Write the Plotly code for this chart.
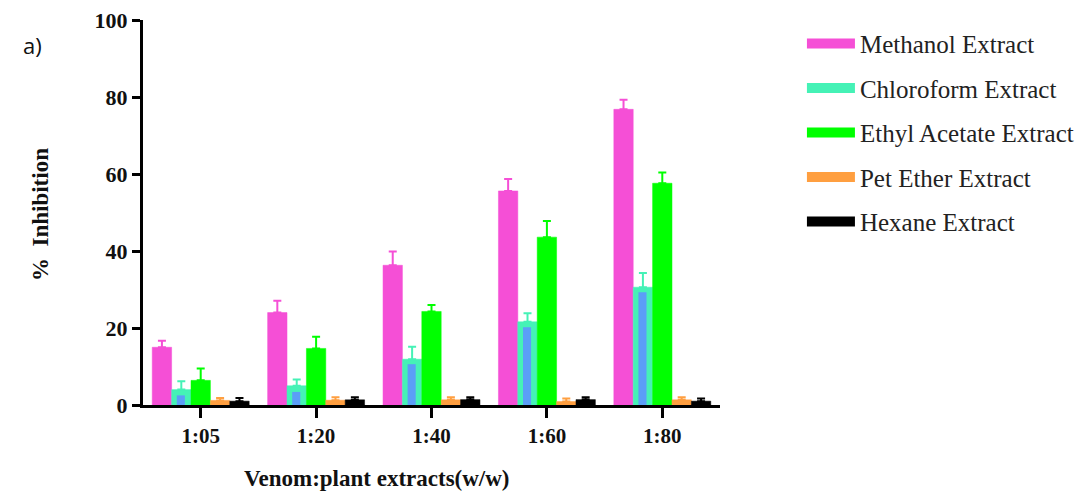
import plotly.graph_objects as go

categories = ["1:05", "1:20", "1:40", "1:60", "1:80"]
series_names = ["Methanol Extract", "Chloroform Extract", "Ethyl Acetate Extract",
                "Pet Ether Extract", "Hexane Extract"]
methanol = [15.0, 24.0, 36.3, 55.6, 76.8]
methanol_err = [1.7, 3.1, 3.6, 3.1, 2.5]
chloroform = [4.0, 5.0, 11.9, 21.6, 30.6]
chloroform_err = [2.2, 1.6, 3.2, 2.2, 3.7]
chloroform_inner = [2.5, 3.4, 10.6, 20.2, 29.3]
ethyl = [6.4, 14.7, 24.3, 43.6, 57.6]
ethyl_err = [3.1, 3.0, 1.7, 4.2, 2.8]
pet = [1.2, 1.25, 1.35, 0.9, 1.35]
pet_err = [0.6, 0.75, 0.65, 0.8, 0.65]
hexane = [1.0, 1.35, 1.4, 1.4, 1.0]
hexane_err = [0.8, 0.65, 0.6, 0.6, 0.7]
y_ticks = [0, 20, 40, 60, 80, 100]

colors = ["#F54FD6", "#45F2B6", "#00FF00", "#FF9F40", "#000000"]
inner_color = "#5B9EF7"
values = [methanol, chloroform, ethyl, pet, hexane]
errors = [methanol_err, chloroform_err, ethyl_err, pet_err, hexane_err]

slot = 0.168
fig = go.Figure()
for i, (name, v, e, c) in enumerate(zip(series_names, values, errors, colors)):
    fig.add_trace(go.Bar(
        x=categories, y=v, name=name, showlegend=False,
        width=slot, offset=-2.5 * slot + i * slot,
        marker=dict(color=c, line=dict(color=c, width=0.5)),
        error_y=dict(type="data", array=e, arrayminus=[0] * len(e), symmetric=False,
                     color=c, thickness=2, width=4),
    ))
    if i == 1:
        fig.add_trace(go.Bar(
            x=categories, y=chloroform_inner, showlegend=False,
            width=0.07, offset=-1.5 * slot + slot / 2 - 0.035 - 0.004,
            marker=dict(color=inner_color, line=dict(width=0)),
        ))

# legend entries
for i, (name, c) in enumerate(zip(series_names, colors)):
    fig.add_trace(go.Scatter(
        x=[None], y=[None], mode="lines", name=name, legendgroup=f"g{i}",
        line=dict(color=c, width=10),
    ))

serif = "Liberation Serif, Times New Roman, serif"
fig.update_layout(
    width=1088, height=491,
    margin=dict(l=135, r=376, t=12, b=94, autoexpand=False),
    plot_bgcolor="white", paper_bgcolor="white",
    barmode="overlay",
    showlegend=True,
    legend=dict(x=1.142, y=0.998, xanchor="left", yanchor="top",
                font=dict(family=serif, size=25, color="#222222"),
                tracegroupgap=9, itemwidth=48, bgcolor="rgba(0,0,0,0)"),
    xaxis=dict(
        type="category", range=[-0.5, 4.5], automargin=False,
        showline=True, linecolor="black", linewidth=3,
        ticks="outside", ticklen=10, tickwidth=3, tickcolor="black",
        tickfont=dict(family=serif, size=21, color="#111111", weight="bold"),
        showgrid=False, zeroline=False, ticklabeloverflow="allow",
    ),
    yaxis=dict(
        range=[0, 100], tickvals=y_ticks, automargin=False,
        showline=True, linecolor="black", linewidth=3,
        ticks="outside", ticklen=8, tickwidth=3, tickcolor="black",
        tickfont=dict(family=serif, size=22, color="#111111", weight="bold"),
        showgrid=False, zeroline=False, ticklabeloverflow="allow",
    ),
    annotations=[
        dict(text="%  Inhibition", xref="paper", yref="paper",
             x=(40 - 143) / 577, y=(405 - 215) / 385, xanchor="center", yanchor="middle",
             textangle=-90, showarrow=False,
             font=dict(family=serif, size=23, color="#111111", weight="bold")),
        dict(text="Venom:plant extracts(w/w)", xref="paper", yref="paper",
             x=(377 - 143) / 577, y=-0.19, xanchor="center", yanchor="middle",
             showarrow=False,
             font=dict(family=serif, size=23, color="#111111", weight="bold")),
        dict(text="a)", xref="paper", yref="paper",
             x=(32 - 143) / 577, y=(405 - 45) / 385, xanchor="center", yanchor="middle",
             showarrow=False,
             font=dict(family="Open Sans, Liberation Sans, sans-serif", size=22, color="#111111")),
    ],
)

fig.write_html("out.html")
